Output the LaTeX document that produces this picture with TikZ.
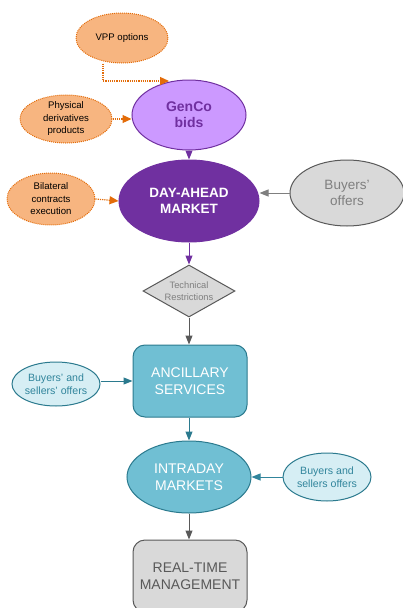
\documentclass[tikz,border=0pt]{standalone}
\usepackage{fontspec}
\setmainfont{Liberation Sans}
\usetikzlibrary{shapes.geometric,arrows.meta}
\definecolor{orfill}{HTML}{F7B580}
\definecolor{ordraw}{HTML}{E36C09}
\definecolor{plfill}{HTML}{CC99FF}
\definecolor{pdark}{HTML}{7030A0}
\definecolor{tfill}{HTML}{70BFD3}
\definecolor{tdraw}{HTML}{2B7A8E}
\definecolor{lfill}{HTML}{D6EEF4}
\definecolor{ltext}{HTML}{31859C}
\definecolor{gfill}{HTML}{D9D9D9}
\definecolor{gdraw}{HTML}{595959}
\definecolor{gtext}{HTML}{7F7F7F}
\tikzset{
  orel/.style={ellipse,draw=ordraw,fill=orfill,densely dotted,line width=1pt,inner sep=0pt,align=center,font=\fontsize{9.6}{12.5}\selectfont},
  ordarr/.style={draw=ordraw,densely dotted,line width=1.2pt,-{Triangle[length=9pt,width=8pt]}},
  parr/.style={draw=pdark,line width=1pt,-{Triangle[length=9pt,width=7pt]}},
  garr/.style={draw=gdraw,line width=1pt,-{Triangle[length=9pt,width=7pt]}},
  tarr/.style={draw=tdraw,line width=1pt,-{Triangle[length=9pt,width=7pt]}},
  big/.style={font=\fontsize{13.5}{16}\selectfont},
}
\begin{document}
\begin{tikzpicture}[x=1pt,y=-1pt]
\useasboundingbox (0,0) rectangle (403,608);
% nodes
\node[orel,minimum width=92pt,minimum height=50pt] (vpp) at (122,38) {VPP options};
\node[ellipse,draw=pdark,fill=plfill,line width=1pt,inner sep=0pt,minimum width=114pt,minimum height=70pt,align=center,text=pdark,font=\fontsize{14}{16}\selectfont\bfseries] (genco) at (189,115) {GenCo\\bids};
\node[orel,minimum width=92pt,minimum height=48pt] (phys) at (66,119) {Physical\\derivatives\\products};
\node[ellipse,draw=pdark,fill=pdark,line width=1pt,inner sep=0pt,minimum width=140pt,minimum height=82pt,align=center,text=white,font=\fontsize{13.5}{16}\selectfont\bfseries] (dam) at (189,201) {DAY-AHEAD\\MARKET};
\node[orel,minimum width=88pt,minimum height=52pt] (bil) at (51,199) {Bilateral\\contracts\\execution};
\node[ellipse,draw=gdraw,fill=gfill,line width=1pt,inner sep=0pt,minimum width=114pt,minimum height=66pt,align=center,text=gtext,big] (buy) at (347,193) {Buyers'\\offers};
\node[diamond,draw=gdraw,fill=gfill,line width=1pt,inner sep=0pt,minimum width=92pt,minimum height=52pt,aspect=1.77,align=center,text=gtext,font=\fontsize{9.3}{11.7}\selectfont] (tech) at (189,291) {Technical\\Restrictions};
\node[rectangle,rounded corners=12pt,draw=tdraw,fill=tfill,line width=1pt,inner sep=0pt,minimum width=114pt,minimum height=72pt,align=center,text=white,font=\fontsize{14}{17}\selectfont] (anc) at (190,381) {ANCILLARY\\SERVICES};
\node[ellipse,draw=tdraw,fill=lfill,line width=1pt,inner sep=0pt,minimum width=88pt,minimum height=44pt,align=center,text=ltext,font=\fontsize{10.6}{13}\selectfont] (bso1) at (56,384) {Buyers' and\\sellers' offers};
\node[ellipse,draw=tdraw,fill=tfill,line width=1pt,inner sep=0pt,minimum width=124pt,minimum height=72pt,align=center,text=white,font=\fontsize{14}{16.5}\selectfont] (intra) at (189,477) {INTRADAY\\MARKETS};
\node[ellipse,draw=tdraw,fill=lfill,line width=1pt,inner sep=0pt,minimum width=88pt,minimum height=48pt,align=center,text=ltext,font=\fontsize{10.6}{12.7}\selectfont] (bso2) at (327,477) {Buyers and\\sellers offers};
\node[rectangle,rounded corners=12pt,draw=gdraw,fill=gfill,line width=1pt,inner sep=0pt,minimum width=114pt,minimum height=72pt,align=center,text=gdraw,font=\fontsize{14}{17}\selectfont] (rt) at (190,576) {REAL-TIME\\MANAGEMENT};
% connectors
\coordinate (vppc) at (103,81);
\coordinate (vppend) at (169,81);
\draw[ordarr] (vpp.south -| vppc) -- (vppc) -- (vppend);
\draw[ordarr] (phys.east) -- (genco.west |- phys.east);
\draw[ordarr] (bil.east) -- (dam.west);
\draw[parr] (genco.south) -- (dam.north);
\draw[garr,draw=gtext] (buy.west) -- (buy.west -| dam.east);
\draw[parr] (dam.south) -- (tech.north);
\draw[garr] (tech.south) -- (anc.north -| tech.south);
\draw[tarr] (bso1.east |- anc.west) -- (anc.west);
\draw[tarr] (anc.south -| intra.north) -- (intra.north);
\draw[tarr,draw=ltext] (bso2.west) -- (intra.east);
\draw[garr] (intra.south) -- (rt.north -| intra.south);
\end{tikzpicture}
\end{document}
